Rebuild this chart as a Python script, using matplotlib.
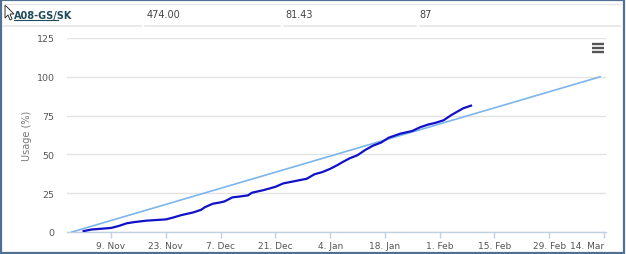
import numpy as np
import matplotlib
matplotlib.use('Agg')
import matplotlib.pyplot as plt
import matplotlib.dates as mdates
from matplotlib.lines import Line2D
from matplotlib.patches import Rectangle, Polygon
import pandas as pd

# table row above the chart
row_name = 'A08-GS/SK'
row_cells = ['474.00', '81.43', '87']

# usage series
usage_dates = ['2015-11-02', '2015-11-04', '2015-11-06', '2015-11-09', '2015-11-11',
               '2015-11-13', '2015-11-15', '2015-11-18', '2015-11-21', '2015-11-23',
               '2015-11-25', '2015-11-27', '2015-11-30', '2015-12-02', '2015-12-03',
               '2015-12-05', '2015-12-07', '2015-12-08', '2015-12-10', '2015-12-12',
               '2015-12-14', '2015-12-15', '2015-12-18', '2015-12-21', '2015-12-23',
               '2015-12-25', '2015-12-29', '2015-12-31', '2016-01-02', '2016-01-04',
               '2016-01-06', '2016-01-07', '2016-01-09', '2016-01-11', '2016-01-13',
               '2016-01-15', '2016-01-17', '2016-01-19', '2016-01-22', '2016-01-25',
               '2016-01-27', '2016-01-29', '2016-01-31', '2016-02-02', '2016-02-04',
               '2016-02-07', '2016-02-09']
usage_values = [0.6, 1.6, 2.0, 2.6, 3.9,
                5.6, 6.4, 7.3, 7.8, 8.1,
                9.4, 10.9, 12.6, 14.3, 16.0,
                18.2, 19.1, 19.7, 22.3, 22.9,
                23.6, 25.3, 27.0, 29.1, 31.3,
                32.3, 34.3, 37.2, 38.6, 40.7,
                43.3, 44.8, 47.5, 49.5, 52.9,
                55.7, 57.6, 60.8, 63.4, 65.1,
                67.5, 69.2, 70.4, 72.0, 75.4,
                79.7, 81.4]

# planned (linear) usage
plan_dates = ['2015-10-30', '2016-03-13']
plan_values = [0, 100]

tick_dates = ['2015-11-09', '2015-11-23', '2015-12-07', '2015-12-21', '2016-01-04',
              '2016-01-18', '2016-02-01', '2016-02-15', '2016-02-29', '2016-03-14']
tick_labels = ['9. Nov', '23. Nov', '7. Dec', '21. Dec', '4. Jan',
               '18. Jan', '1. Feb', '15. Feb', '29. Feb', '14. Mar']
y_ticks = [0, 25, 50, 75, 100, 125]

W, H = 626, 255
fig = plt.figure(figsize=(W / 100, H / 100), dpi=100)
fig.patch.set_facecolor('white')

ax = fig.add_axes([67 / W, 1 - 233 / H, (606 - 67) / W, (233 - 39) / H])
ax.set_facecolor('white')

ax.plot(pd.to_datetime(plan_dates), plan_values, color='#7cb5ec', lw=1.2, zorder=3)
ax.plot(pd.to_datetime(usage_dates), usage_values, color='#1111c8', lw=1.6, zorder=4)

ax.set_xlim(mdates.date2num(pd.Timestamp('2015-10-28 18:00')),
            mdates.date2num(pd.Timestamp('2016-03-14 12:00')))
ax.set_ylim(0, 125)

ax.set_xticks(pd.to_datetime(tick_dates))
ax.set_xticklabels(tick_labels)
ax.get_xticklabels()[-1].set_ha('right')
ax.set_yticks(y_ticks)
ax.set_yticklabels([str(v) for v in y_ticks])

ax.grid(axis='y', color='#e3e3e3', lw=1)
ax.set_axisbelow(True)
for s in ['top', 'right', 'left']:
    ax.spines[s].set_visible(False)
ax.spines['bottom'].set_color('#c0d0e0')
ax.spines['bottom'].set_linewidth(1)

ax.tick_params(axis='x', colors='#c0d0e0', length=4.3, width=1, labelcolor='#555555',
               labelsize=6.5, pad=2)
ax.tick_params(axis='y', length=0, labelcolor='#555555', labelsize=6.8, pad=9)
ax.set_ylabel('Usage (%)', color='#777777', fontsize=7, labelpad=3)

# menu icon
for yy in [44.5, 48.5, 52.5]:
    fig.add_artist(Line2D([592 / W, 604 / W], [1 - yy / H, 1 - yy / H],
                          color='#555555', lw=1.7, solid_capstyle='butt'))

# table row
fig.add_artist(Line2D([4 / W, 620 / W], [1 - 5 / H, 1 - 5 / H], color='#e6e6e6', lw=1))
for x0, x1 in [(4, 141), (145, 280), (284, 416), (420, 620)]:
    fig.add_artist(Line2D([x0 / W, x1 / W], [1 - 27 / H, 1 - 27 / H], color='#e6e6e6', lw=1.2))
fig.text(14 / W, 1 - 15.5 / H, row_name, fontsize=7, fontweight='bold', color='#1f4a5a',
         va='center', ha='left')
fig.add_artist(Line2D([14 / W, 58 / W], [1 - 21 / H, 1 - 21 / H], color='#1f4a5a', lw=0.8))
for cx, txt in zip([147, 285, 419], row_cells):
    fig.text(cx / W, 1 - 15.5 / H, txt, fontsize=7, color='#444444', va='center', ha='left')

# mouse cursor
cur = np.array([[5, 6], [5, 19], [8, 16], [10, 21], [12, 20], [10, 15], [14, 15]], dtype=float)
fig.add_artist(Polygon(np.column_stack([cur[:, 0] / W, 1 - cur[:, 1] / H]),
                       closed=True, facecolor='white', edgecolor='#333333', lw=0.7))

# outer border
fig.add_artist(Rectangle((0.6 / W, 0.6 / H), 1 - 2.5 / W, 1 - 2 / H, fill=False,
                         edgecolor='#4f6f93', lw=1.6))

fig.savefig('out.png', dpi=100)
